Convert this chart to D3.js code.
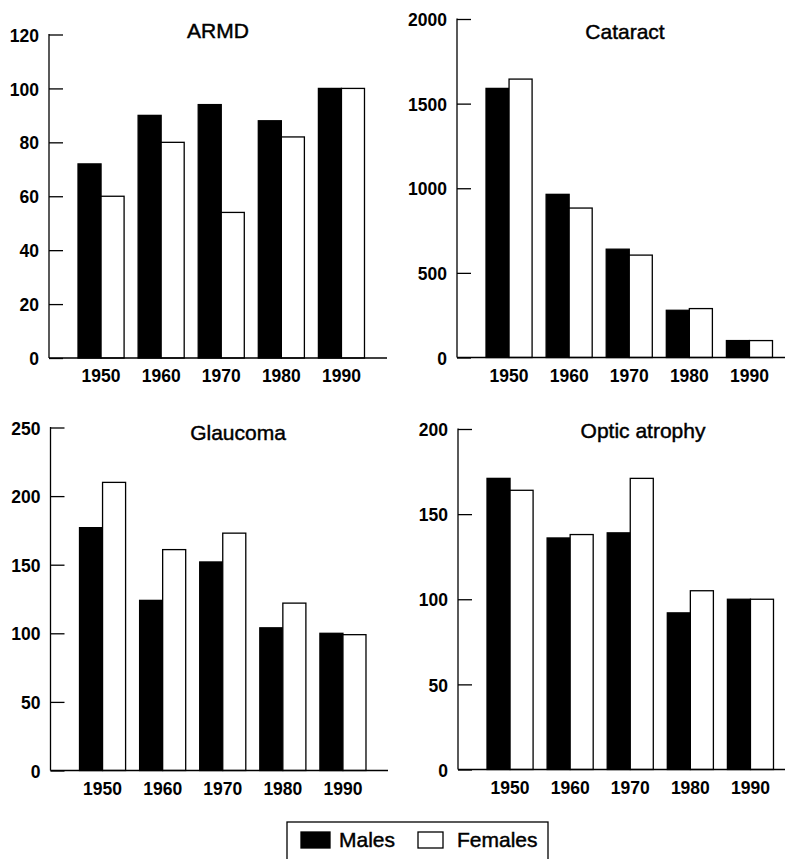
<!DOCTYPE html>
<html>
<head>
<meta charset="utf-8">
<script src="https://cdn.jsdelivr.net/npm/d3@7"></script>
<style>
  html, body { margin: 0; padding: 0; background: #fff; }
  svg { display: block; }
  text { font-family: "Liberation Sans", Arial, Helvetica, sans-serif; fill: #000; }
</style>
</head>
<body>
<svg id="chart" width="785" height="859"></svg>
<script>
// ---- data ----
const years = ["1950", "1960", "1970", "1980", "1990"];
const series = ["Males", "Females"];
const panelTitles = ["ARMD", "Cataract", "Glaucoma", "Optic atrophy"];

const armdMales      = [72, 90, 94, 88, 100];
const armdFemales    = [60, 80, 54, 82, 100];
const cataractMales  = [1590, 964, 640, 279, 100];
const cataractFemales= [1645, 883, 605, 289, 100];
const glaucomaMales  = [177, 124, 152, 104, 100];
const glaucomaFemales= [210, 161, 173, 122, 99];
const opticMales     = [171, 136, 139, 92, 100];
const opticFemales   = [164, 138, 171, 105, 100];

const armdTicks     = [0, 20, 40, 60, 80, 100, 120];
const cataractTicks = [0, 500, 1000, 1500, 2000];
const glaucomaTicks = [0, 50, 100, 150, 200, 250];
const opticTicks    = [0, 50, 100, 150, 200];

// ---- layout ----
const panels = [
  { title: panelTitles[0], males: armdMales, females: armdFemales, ticks: armdTicks, max: 120,
    left: 49, right: 387, bottom: 358, top: 34.5, titleX: 218, titleY: 38 },
  { title: panelTitles[1], males: cataractMales, females: cataractFemales, ticks: cataractTicks, max: 2000,
    left: 457, right: 785, bottom: 357.5, top: 19, titleX: 625, titleY: 39 },
  { title: panelTitles[2], males: glaucomaMales, females: glaucomaFemales, ticks: glaucomaTicks, max: 250,
    left: 50.5, right: 388, bottom: 770.5, top: 427.5, titleX: 238, titleY: 440 },
  { title: panelTitles[3], males: opticMales, females: opticFemales, ticks: opticTicks, max: 200,
    left: 458, right: 785, bottom: 769.5, top: 429, titleX: 643, titleY: 438 }
];

const svg = d3.select("#chart");
const LW = 1.3;

panels.forEach(p => {
  const g = svg.append("g");
  const y = d3.scaleLinear().domain([0, p.max]).range([p.bottom, p.top]);
  const x0 = d3.scaleBand().domain(years)
    .range([p.left + 22, p.left + 322.5]).paddingInner(0.2333).paddingOuter(0.1167);
  const x1 = d3.scaleBand().domain(series).range([0, x0.bandwidth()]);

  // bars
  const groups = g.selectAll("g.grp").data(years).join("g")
    .attr("transform", d => `translate(${x0(d)},0)`);
  groups.append("rect")
    .attr("x", x1("Males"))
    .attr("width", x1.bandwidth())
    .attr("y", (d, i) => y(p.males[i]))
    .attr("height", (d, i) => p.bottom - y(p.males[i]))
    .attr("fill", "#000").attr("stroke", "#000").attr("stroke-width", LW);
  groups.append("rect")
    .attr("x", x1("Females"))
    .attr("width", x1.bandwidth())
    .attr("y", (d, i) => y(p.females[i]))
    .attr("height", (d, i) => p.bottom - y(p.females[i]))
    .attr("fill", "#fff").attr("stroke", "#000").attr("stroke-width", LW);

  // y axis (inward ticks, labels on the left)
  const yAxis = d3.axisRight(y).tickValues(p.ticks).tickSize(14).tickFormat(d3.format("d"));
  const ya = g.append("g").attr("transform", `translate(${p.left},0)`).call(yAxis);
  ya.select(".domain").remove();
  ya.selectAll(".tick line").attr("stroke", "#000").attr("stroke-width", LW);
  ya.selectAll(".tick text")
    .attr("x", -10).attr("dy", "0.38em")
    .attr("text-anchor", "end")
    .style("font-size", "17.5px").style("font-weight", "bold");
  g.append("line")
    .attr("x1", p.left).attr("x2", p.left)
    .attr("y1", y(p.max) - 0.6).attr("y2", p.bottom)
    .attr("stroke", "#000").attr("stroke-width", LW);

  // x axis
  g.append("line")
    .attr("x1", p.left).attr("x2", p.right)
    .attr("y1", p.bottom).attr("y2", p.bottom)
    .attr("stroke", "#000").attr("stroke-width", LW);
  const xAxis = d3.axisBottom(x0).tickSize(0).tickPadding(0);
  const xa = g.append("g").attr("transform", `translate(0,${p.bottom})`).call(xAxis);
  xa.select(".domain").remove();
  xa.selectAll(".tick text")
    .attr("y", 24).attr("dy", 0)
    .style("font-size", "17.5px").style("font-weight", "bold");

  // title
  g.append("text")
    .attr("x", p.titleX).attr("y", p.titleY)
    .attr("text-anchor", "middle")
    .style("font-size", "21px")
    .style("stroke", "#000").style("stroke-width", "0.45px")
    .text(p.title);
});

// legend
const leg = svg.append("g");
leg.append("rect")
  .attr("x", 287).attr("y", 822).attr("width", 261).attr("height", 60)
  .attr("fill", "#fff").attr("stroke", "#000").attr("stroke-width", LW);
const legItems = [
  { name: series[0], fill: "#000", sx: 301, sw: 29, tx: 339 },
  { name: series[1], fill: "#fff", sx: 418, sw: 25, tx: 457 }
];
legItems.forEach(it => {
  leg.append("rect")
    .attr("x", it.sx).attr("y", 832).attr("width", it.sw).attr("height", 16)
    .attr("fill", it.fill).attr("stroke", "#000").attr("stroke-width", LW);
  leg.append("text")
    .attr("x", it.tx).attr("y", 847)
    .style("font-size", "21px")
    .style("stroke", "#000").style("stroke-width", "0.45px")
    .text(it.name);
});
</script>
</body>
</html>
